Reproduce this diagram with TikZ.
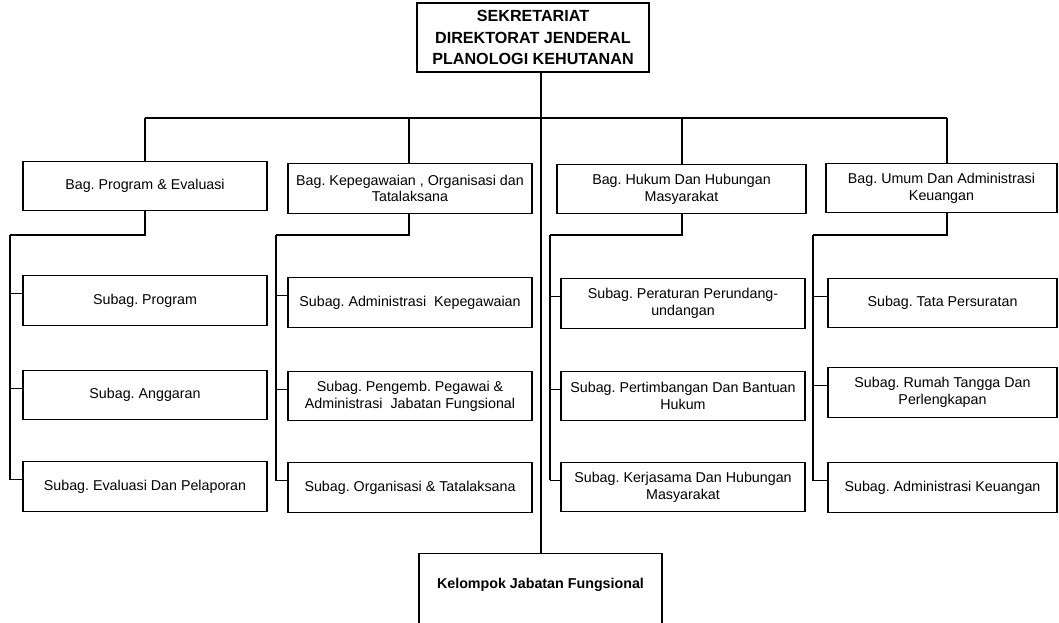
\documentclass[tikz,border=0pt]{standalone}
\usepackage{fontspec}
\setmainfont{Liberation Sans}
\frenchspacing
\usetikzlibrary{positioning, calc}
\tikzstyle{unit} = [rectangle, draw=black, line width=0.8pt, align=center, inner sep=0pt, font=\fontsize{10.7}{12.5}\selectfont]
\tikzstyle{bag} = [unit, minimum width=183pt, minimum height=37pt]
\tikzstyle{subag} = [unit, minimum width=183pt, minimum height=37pt]
\tikzstyle{line} = [line width=0.8pt]

\begin{document}
\begin{tikzpicture}[x=0.75pt, y=-0.75pt]
\path[use as bounding box, clip] (0,0) rectangle (1059,623);

% Sekretariat
\node[unit, minimum width=174pt, minimum height=51.75pt, font=\fontsize{12.1}{16.3}\selectfont\bfseries] (top) at (533,37.5) {SEKRETARIAT\\DIREKTORAT JENDERAL\\PLANOLOGI KEHUTANAN};

% Bagian
\node[bag] (b1) at (145,186) {Bag. Program \& Evaluasi};
\node[bag] (b2) at (410,188.5) {Bag. Kepegawaian , Organisasi dan\\Tatalaksana};
\node[bag, minimum width=186.75pt] (b3) at (681.5,189) {Bag. Hukum Dan Hubungan\\Masyarakat};
\node[bag, minimum width=173.25pt] (b4) at (941.5,188) {Bag. Umum Dan Administrasi\\Keuangan};

% Subbagian program
\node[subag] (s11) at (145,300.5) {Subag. Program};
\node[subag] (s12) at (145,395) {Subag. Anggaran};
\node[subag] (s13) at (145,486.5) {Subag. Evaluasi Dan Pelaporan};

% Subbagian kepegawaian
\node[subag] (s21) at (410,302.5) {Subag. Administrasi~ Kepegawaian};
\node[subag] (s22) at (410,396) {Subag. Pengemb. Pegawai \&\\Administrasi~ Jabatan Fungsional};
\node[subag] (s23) at (410,487.5) {Subag. Organisasi \& Tatalaksana};

% Subbagian hukum
\node[subag] (s31) at (683,303.5) {Subag. Peraturan Perundang-\\undangan};
\node[subag] (s32) at (683,396) {Subag. Pertimbangan Dan Bantuan\\Hukum};
\node[subag] (s33) at (683,487) {Subag. Kerjasama Dan Hubungan\\Masyarakat};

% Subbagian umum
\node[subag, minimum width=171.75pt] (s41) at (942.5,303) {Subag. Tata Persuratan};
\node[subag, minimum width=171.75pt] (s42) at (942.5,392.5) {Subag. Rumah Tangga Dan\\Perlengkapan};
\node[subag, minimum width=171.75pt] (s43) at (942.5,487.5) {Subag. Administrasi Keuangan};

% Kelompok jabatan fungsional
\node[unit, anchor=north, minimum width=182.25pt, inner ysep=18pt, text height=8pt, text depth=60pt, font=\fontsize{10.7}{12.5}\selectfont\bfseries] (kjf) at (540.5,553) {Kelompok Jabatan Fungsional};

% Trunk and bus
\coordinate (bus) at (541,118);
\draw[line] (bus |- top.south) -- (bus |- kjf.north);
\draw[line] (145,118) coordinate (d1) -- (947,118) coordinate (d4);

% Columns
\foreach \c/\dx/\rx in {1/145/10, 2/409/276, 3/682/550, 4/947/813} {
  \coordinate (d\c) at (\dx,118);
  \coordinate (r\c) at (\rx,235);
  \draw[line] (d\c) -- (d\c |- b\c.north);
  \draw[line] (d\c |- b\c.south) |- (r\c);
  \foreach \r in {1,2,3} {
    \coordinate (t\c\r) at ([yshift=5pt]s\c\r.west);
    \draw[line] (r\c |- t\c\r) -- (t\c\r);
  }
  \draw[line] (r\c) -- (r\c |- t\c3);
}
\end{tikzpicture}
\end{document}
